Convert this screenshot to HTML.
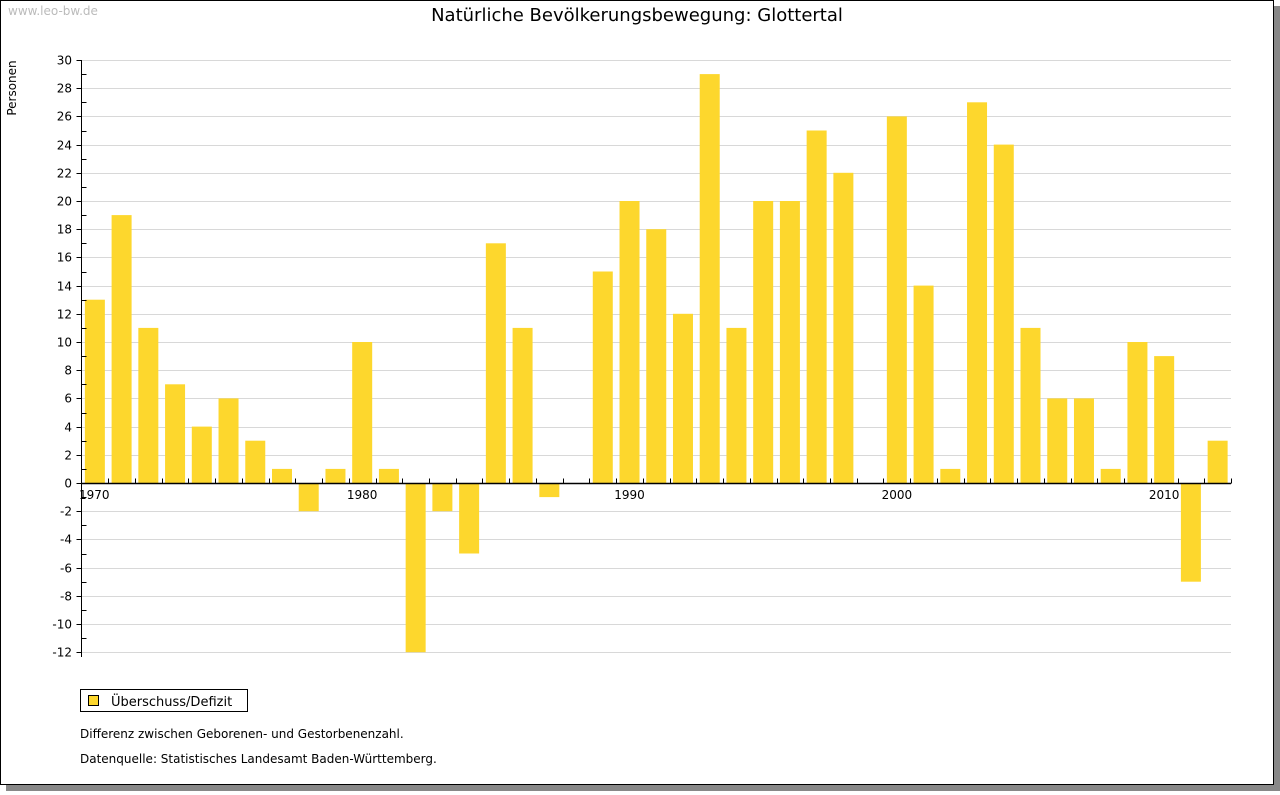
<!DOCTYPE html>
<html><head><meta charset="utf-8"><style>
body{margin:0;width:1280px;height:791px;background:#fff;font-family:"DejaVu Sans","Liberation Sans",sans-serif;overflow:hidden}
</style></head><body>
<svg width="1280" height="791" xmlns="http://www.w3.org/2000/svg">
<rect x="6" y="6" width="1274" height="785" fill="#888"/>
<rect x="0.5" y="0.5" width="1273" height="784" fill="#fff" stroke="#000"/>
<text x="8" y="15" font-size="12" fill="#bbb">www.leo-bw.de</text>
<text x="637" y="21" font-size="18" text-anchor="middle" fill="#000">Natürliche Bevölkerungsbewegung: Glottertal</text>
<text transform="translate(16,88) rotate(-90)" font-size="12" text-anchor="middle">Personen</text>
<g id="grid"></g><g id="bars"></g><g id="axes"></g>
<rect x="80.5" y="689.5" width="167" height="22" fill="#fff" stroke="#000"/>
<rect x="88.5" y="695.5" width="10" height="10" fill="#fdd72d" stroke="#000"/>
<text x="111" y="706" font-size="13">Überschuss/Defizit</text>
<text x="80" y="738" font-size="12">Differenz zwischen Geborenen- und Gestorbenenzahl.</text>
<text x="80" y="763" font-size="12">Datenquelle: Statistisches Landesamt Baden-Württemberg.</text>
</svg>
<script>
const years=[1970,1971,1972,1973,1974,1975,1976,1977,1978,1979,1980,1981,1982,1983,1984,1985,1986,1987,1988,1989,1990,1991,1992,1993,1994,1995,1996,1997,1998,1999,2000,2001,2002,2003,2004,2005,2006,2007,2008,2009,2010,2011,2012];
const values=[13,19,11,7,4,6,3,1,-2,1,10,1,-12,-2,-5,17,11,-1,0,15,20,18,12,29,11,20,20,25,22,0,26,14,1,27,24,11,6,6,1,10,9,-7,3];
const yTicks=[30,28,26,24,22,20,18,16,14,12,10,8,6,4,2,0,-2,-4,-6,-8,-10,-12];
const xLabels=[1970,1980,1990,2000,2010];
const NS="http://www.w3.org/2000/svg";
const X0=81.5,X1=1231,Y=v=>483-(v*14.1),step=(X1-X0)/years.length;
const X=yr=>X0+(years.indexOf(yr)+0.5)*step;
function mk(t,a,p){const e=document.createElementNS(NS,t);for(const k in a)e.setAttribute(k,a[k]);document.getElementById(p).appendChild(e);return e;}
yTicks.forEach(v=>{
 const y=Math.round(Y(v))+0.5;
 if(v!==0){const l=mk('line',{x1:X0,x2:X1,y1:y,y2:y,stroke:'#d8d8d8'},'grid');
 
 }
 const t=mk('text',{x:72,y:y+4,'font-size':12,'text-anchor':'end'},'axes');t.textContent=v;
 
 
 mk('line',{x1:X0-5,x2:X0,y1:y,y2:y,stroke:'#000'},'axes');
});
for(let v=-11;v<30;v+=2){const y=Math.round(Y(v))+0.5;mk('line',{x1:X0,x2:X0+5,y1:y,y2:y,stroke:'#000'},'axes');}
years.forEach((yr,i)=>{
 const v=values[i];if(v===0)return;
 const top=Math.min(Y(v),Y(0)),h=Math.abs(Y(v)-Y(0));
 const r=mk('rect',{x:X(yr)-10,y:top,width:20,height:h,fill:'#fdd72d'},'bars');
 
 
});
mk('line',{x1:X0,x2:X0,y1:60,y2:657,stroke:'#000'},'axes');
const y0=Math.round(Y(0))+0.5;
mk('line',{x1:X0,x2:X1,y1:y0,y2:y0,stroke:'#000','stroke-width':1.5},'axes');
for(let i=1;i<=years.length;i++){const x=Math.round(X0+i*step)+0.5;mk('line',{x1:x,x2:x,y1:y0-5,y2:y0,stroke:'#000'},'axes');}
xLabels.forEach(yr=>{
 const x=X(yr);const first=yr===years[0];
 const t=mk('text',{x:first?79:x,y:499,'font-size':12,'text-anchor':first?'start':'middle'},'axes');t.textContent=yr;
 
 
});
</script>
</body></html>
